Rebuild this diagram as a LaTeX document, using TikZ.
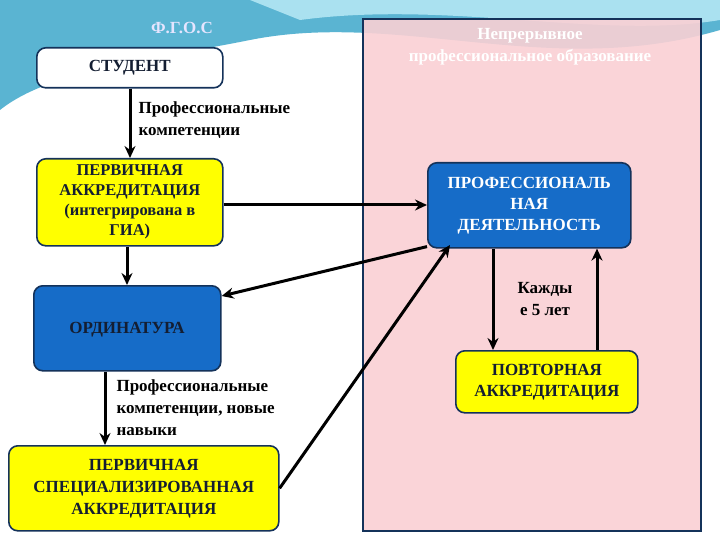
\documentclass[tikz,border=0pt]{standalone}
\usepackage{fontspec}
\setmainfont{Liberation Serif}
\usetikzlibrary{arrows.meta}
\definecolor{pinkbg}{RGB}{250,208,212}
\definecolor{navy}{RGB}{20,50,90}
\definecolor{boxblue}{RGB}{22,108,200}
\definecolor{ylw}{RGB}{255,255,0}
\definecolor{wave1}{RGB}{90,180,210}
\definecolor{wave2}{RGB}{170,225,240}
\definecolor{txtdark}{RGB}{20,30,50}
\tikzset{
  box/.style={draw=navy,line width=1.6pt,rounded corners=9pt,align=center,font=\bfseries\fontsize{17}{20}\selectfont,text=txtdark},
  arr/.style={line width=3pt,-{Stealth[length=12pt,width=11pt]}},
  lbl/.style={align=left,anchor=north west,font=\bfseries\fontsize{17}{22}\selectfont}
}
\begin{document}
\begin{tikzpicture}[x=1pt,y=-1pt]
\useasboundingbox (0,0) rectangle (720,540);
\fill[white] (0,0) rectangle (720,540);
\fill[wave1] (0,0) -- (720,0) -- (720,30) .. controls (550,80) and (400,10) .. (250,40) .. controls (150,60) and (50,70) .. (0,110) -- cycle;
\fill[wave2] (250,0) -- (720,0) -- (720,20) .. controls (600,40) and (450,0) .. (300,20) -- cycle;
\draw[white,line width=3pt] (0,115) .. controls (80,70) and (200,40) .. (330,45);
\node[font=\bfseries\fontsize{17}{20}\selectfont,text=white!90!blue] (fgos) at (182,28) {Ф.Г.О.С};
\node[draw=navy,line width=1.6pt,fill=pinkbg,fill opacity=0.9,minimum width=338,minimum height=512,anchor=north west,inner sep=0] (pink) at (362,18) {};
\node[align=center,text=white,font=\bfseries\fontsize{17}{22}\selectfont] (title) at (530,47) {Непрерывное\\профессиональное образование};
\node[box,fill=white,minimum width=186,minimum height=40,anchor=north west] (stud) at (36,47) {СТУДЕНТ};
\node[box,fill=ylw,minimum width=186,minimum height=87,anchor=north west,font=\bfseries\fontsize{16.5}{20}\selectfont] (pa) at (36,158) {ПЕРВИЧНАЯ\\АККРЕДИТАЦИЯ\\(интегрирована в\\ГИА)};
\node[box,fill=boxblue,minimum width=187,minimum height=85,anchor=north west] (ord) at (33,285) {};
\node[font=\bfseries\fontsize{17}{20}\selectfont,text=txtdark] (ordt) at (127,330) {ОРДИНАТУРА};
\node[box,fill=ylw,minimum width=270,minimum height=85,anchor=north west,font=\bfseries\fontsize{17}{22}\selectfont] (psa) at (8,445) {ПЕРВИЧНАЯ\\СПЕЦИАЛИЗИРОВАННАЯ\\АККРЕДИТАЦИЯ};
\node[box,fill=boxblue,minimum width=203,minimum height=85,anchor=north west,text=white,font=\bfseries\fontsize{17}{21}\selectfont] (pd) at (427,162) {ПРОФЕССИОНАЛЬ\\НАЯ\\ДЕЯТЕЛЬНОСТЬ};
\node[box,fill=ylw,minimum width=182,minimum height=62,anchor=north west,font=\bfseries\fontsize{17}{21}\selectfont] (pov) at (455,350) {ПОВТОРНАЯ\\АККРЕДИТАЦИЯ};
\node[lbl] (l1) at (135,98) {Профессиональные\\компетенции};
\node[lbl] (l2) at (113,376) {Профессиональные\\компетенции, новые\\навыки};
\node[lbl,align=center,anchor=center] (l3) at (545,299) {Кажды\\е 5 лет};
\draw[arr] (stud.south -| 130,0) -- (pa.north -| 130,0);
\draw[arr] (pa.south -| 127,0) -- (ord.north -| 127,0);
\draw[arr] (ord.south -| 105,0) -- (psa.north -| 105,0);
\draw[arr] (pa.east |- 0,205) -- (pd.west |- 0,205);
\draw[arr] (pd.south west) ++(0,-2) -- (ord.north east |- 0,296);
\draw[arr] (psa.east) -- (450,245);
\draw[arr] (pd.south -| 493,0) -- (pov.north -| 493,0);
\draw[arr] (pov.north -| 597,0) -- (pd.south -| 597,0);
\end{tikzpicture}
\end{document}
